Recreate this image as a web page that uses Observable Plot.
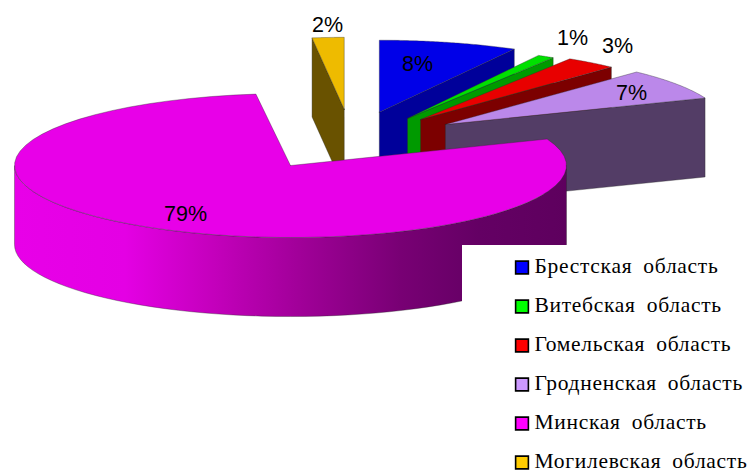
<!DOCTYPE html>
<html>
<head>
<meta charset="utf-8">
<script src="https://cdn.jsdelivr.net/npm/d3@7"></script>
<script src="https://cdn.jsdelivr.net/npm/@observablehq/plot@0.6"></script>
<style>
  html, body { margin: 0; padding: 0; background: #fff; }
  svg { display: block; }
  .legend-label { letter-spacing: 0.7px; word-spacing: 5px; }
</style>
</head>
<body>
<div id="chart"></div>
<script>
// Share of each region, percent
const regions = ["Брестская область", "Витебская область", "Гомельская область", "Гродненская область", "Минская область", "Могилевская область"];
const shares = [8, 1, 3, 7, 79, 2];

// Colours: legend swatch, top of slice, cut face of slice
const swatchColors = ["#0000ff", "#00ff00", "#ff0000", "#cc99ff", "#ff00ff", "#ffcc00"];
const topColors = ["#0000e8", "#00e000", "#e80000", "#bb88ea", "#e800e8", "#eebb00"];
const faceColors = ["#00009a", "#009a00", "#7c0000", "#533d66", "#640064", "#695200"];

// Percent labels sit at these spots on the page
const labelX = [417, 572, 617, 631, 185, 327];
const labelY = [64, 38, 46, 93, 214, 25];

// Pie projection on the page: tilted ellipse, exploded slices
const pie = {cx: 350, cy: 140, rx: 276, ry: 72, depth: 79, explode: 0.42};

// Small per-slice corrections for perspective: apex shift and radius scale
const apexShift = [[0, 1], [-2, 4], [-1, 3], [-1, 1], [-1, -1], [1, -1]];
const radiusScale = [1.015, 0.985, 1.01, 1.012, 1, 0.93];

const rad = (d) => (d * Math.PI) / 180;
const rim = (c, a, s = 1) => [c[0] + s * pie.rx * Math.sin(rad(a)), c[1] - pie.ry * Math.cos(rad(a))];
const down = (p) => [p[0], p[1] + pie.depth];
const arc = (c, a0, a1, s) => d3.range(0, 61).map((i) => rim(c, a0 + ((a1 - a0) * i) / 60, s));

let cumulative = 0;
const slices = shares.map((v, i) => {
  const a0 = (cumulative / 100) * 360;
  cumulative += v;
  const a1 = (cumulative / 100) * 360;
  const mid = (a0 + a1) / 2;
  const apex = [
    pie.cx + pie.explode * pie.rx * Math.sin(rad(mid)) + apexShift[i][0],
    pie.cy - pie.explode * pie.ry * Math.cos(rad(mid)) + apexShift[i][1]
  ];
  return {i, a0, a1, apex, s: radiusScale[i]};
});

const polygon = (points, fill, stroke = "#2a2a2a") =>
  Plot.line([...points, points[0]], {x: "0", y: "1", fill, stroke, strokeWidth: 0.6, strokeOpacity: 0.6, curve: "linear"});

// Horizontal shading of the outer wall of the largest slice
function wallGradient() {
  const ns = "http://www.w3.org/2000/svg";
  const defs = document.createElementNS(ns, "defs");
  const g = document.createElementNS(ns, "linearGradient");
  g.setAttribute("id", "wall");
  [[0, "#e800e8"], [0.2, "#e400e4"], [0.36, "#c400bc"], [0.52, "#a00098"], [0.7, "#780074"], [0.84, "#640064"], [1, "#5e005e"]].forEach(([o, c]) => {
    const s = document.createElementNS(ns, "stop");
    s.setAttribute("offset", o);
    s.setAttribute("stop-color", c);
    g.appendChild(s);
  });
  defs.appendChild(g);
  return defs;
}

const marks = [wallGradient];

// Paint back to front; the largest slice goes on top of everything else
const order = [5, 0, 1, 2, 3, 4];
for (const k of order) {
  const {i, a0, a1, apex, s} = slices[k];
  const top = [apex, ...arc(apex, a0, a1, s)];
  if (i === 5) {
    // this slice shows its left cut face
    const r = rim(apex, a0, s);
    marks.push(polygon([apex, r, down(r), down(apex)], faceColors[i]));
  } else if (i === 4) {
    // outer wall, seen from 90 to 270 degrees
    const front = arc(apex, 90, 270, s);
    marks.push(polygon([...front, ...front.map(down).reverse()], "url(#wall)"));
  } else {
    // the right cut face
    const r = rim(apex, a1, s);
    marks.push(polygon([apex, r, down(r), down(apex)], faceColors[i]));
  }
  marks.push(polygon(top, topColors[i]));
}

// White panel behind the legend
marks.push(Plot.rect([{x1: 462, x2: 752, y1: 245, y2: 470}], {x1: "x1", x2: "x2", y1: "y1", y2: "y2", fill: "white"}));

// Percent labels
marks.push(Plot.text(shares, {
  x: (d, i) => labelX[i], y: (d, i) => labelY[i],
  text: (d) => `${d}%`,
  fontFamily: "Liberation Sans", fontSize: 21.5, fill: "black"
}));

// Legend
const rowY = regions.map((_, i) => 267 + i * 39);
marks.push(Plot.dot(regions, {
  x: 521.5, y: (d, i) => rowY[i], symbol: "square", r: 7.2,
  fill: (d, i) => swatchColors[i], stroke: "black", strokeWidth: 1.6
}));
marks.push(Plot.text(regions, {
  x: 534, y: (d, i) => rowY[i] - 1, text: (d) => d, textAnchor: "start",
  fontFamily: "Liberation Serif", fontSize: 21.5, fill: "black",
  className: "legend-label"
}));

const chart = Plot.plot({
  width: 752, height: 470,
  margin: 0,
  x: {domain: [0, 752], range: [0, 752], axis: null},
  y: {domain: [0, 470], range: [0, 470], axis: null},
  style: {background: "white"},
  marks
});
document.getElementById("chart").appendChild(chart);
</script>
</body>
</html>
